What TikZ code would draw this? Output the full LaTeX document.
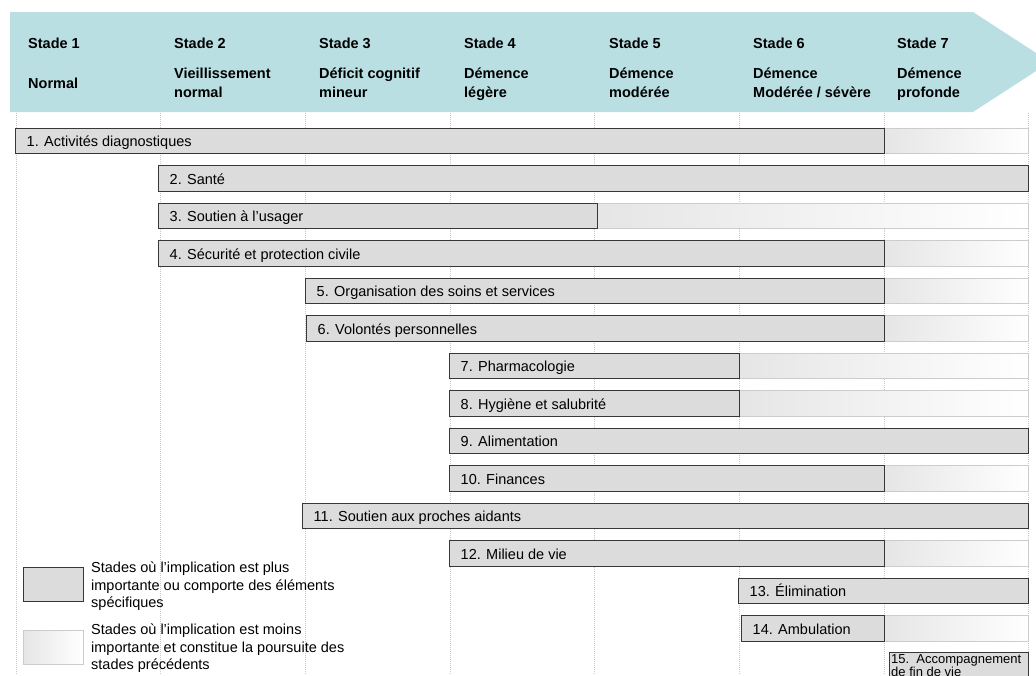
\documentclass[tikz,border=0pt]{standalone}
\usepackage{fontspec}
\setmainfont{Liberation Sans}
\definecolor{bannerteal}{RGB}{185,223,227}
\definecolor{barfill}{RGB}{220,220,220}
\definecolor{gridgray}{RGB}{200,200,200}
\tikzset{
  banner/.style={fill=bannerteal, draw=none},
  gridline/.style={draw=gridgray, line width=0.6pt, dash pattern=on 1pt off 1pt},
  darkbar/.style={draw=black!78, line width=1pt, fill=barfill},
  lightbar/.style={draw=black!20, line width=1pt, left color=black!10, right color=white},
  headtxt/.style={font=\bfseries\fontsize{14.5}{17}\selectfont, inner sep=0pt, anchor=base west},
  bartxt/.style={font=\fontsize{14.5}{17}\selectfont, inner sep=0pt, anchor=base west},
  legtxt/.style={font=\fontsize{14.5}{17}\selectfont, inner sep=0pt, anchor=base west},
  smalltxt/.style={font=\fontsize{13}{13.5}\selectfont, inner sep=0pt, anchor=north west, align=left}
}
\begin{document}
\begin{tikzpicture}[x=1pt, y=-1pt]
\useasboundingbox (0,0) rectangle (1036,675);
\clip (0,0) rectangle (1036,675);

% stage banner (arrow pointing right)
\path[banner] (10,12) -- (973,12) -- (1050,62) -- (973,112) -- (10,112) -- cycle;

% stage headings
\foreach \xx/\n in {28/1,174/2,319/3,464/4,609/5,753/6,897/7}
  \node[headtxt] (st\n) at (\xx,48) {Stade \n};
\node[headtxt] (lb1) at (28,88) {Normal};
\foreach \xx/\n/\la/\lb in {174/2/{Vieillissement}/{normal},
                            319/3/{Déficit cognitif}/{mineur},
                            464/4/{Démence}/{légère},
                            609/5/{Démence}/{modérée},
                            753/6/{Démence}/{Modérée / sévère},
                            897/7/{Démence}/{profonde}}{
  \node[headtxt] (lb\n a) at (\xx,78) {\la};
  \node[headtxt] (lb\n b) at (\xx,97) {\lb};
}

% dotted column separators
\foreach \xx in {16,160,305,450,594,739,884,1028}
  \draw[gridline] (\xx,113) -- (\xx,675);

% domain bars: index / start / end of the strong part / label
\foreach \i/\xa/\xb/\txt in {
   1/15/884/{1. Activités diagnostiques},
   2/158/1028/{2. Santé},
   3/158/597/{3. Soutien à l’usager},
   4/158/884/{4. Sécurité et protection civile},
   5/305/884/{5. Organisation des soins et services},
   6/306/884/{6. Volontés personnelles},
   7/449/739/{7. Pharmacologie},
   8/449/739/{8. Hygiène et salubrité},
   9/449/1028/{9. Alimentation},
  10/449/884/{10. Finances},
  11/302/1028/{11. Soutien aux proches aidants},
  12/449/884/{12. Milieu de vie},
  13/738/1028/{13. Élimination},
  14/741/884/{14. Ambulation}}{
  \pgfmathsetmacro{\yt}{128+37.5*(\i-1)}
  \pgfmathsetmacro{\yb}{\yt+25.5}
  \pgfmathsetmacro{\ybase}{\yt+18.8}
  \ifdim\xb pt<1020pt
    \draw[lightbar] (\xb,\yt) rectangle (1028,\yb);
  \fi
  \draw[darkbar] (\xa,\yt) rectangle (\xb,\yb);
  \node[bartxt] (bar\i) at (\xa+11.5,\ybase) {\txt};
}

% last domain, partly below the page edge
\draw[darkbar] (889,652.5) rectangle (1028,700);
\node[smalltxt] (bar15) at (891,654) {15.\ \ Accompagnement\\de fin de vie};

% legend
\draw[darkbar] (23,567) rectangle (83,601);
\node[legtxt] (legA1) at (91,572.5) {Stades où l’implication est plus};
\node[legtxt] (legA2) at (91,590) {importante ou comporte des éléments};
\node[legtxt] (legA3) at (91,607.5) {spécifiques};
\draw[lightbar] (23,630) rectangle (83,664);
\node[legtxt] (legB1) at (91,634.5) {Stades où l’implication est moins};
\node[legtxt] (legB2) at (91,652) {importante et constitue la poursuite des};
\node[legtxt] (legB3) at (91,669.5) {stades précédents};
\end{tikzpicture}
\end{document}
